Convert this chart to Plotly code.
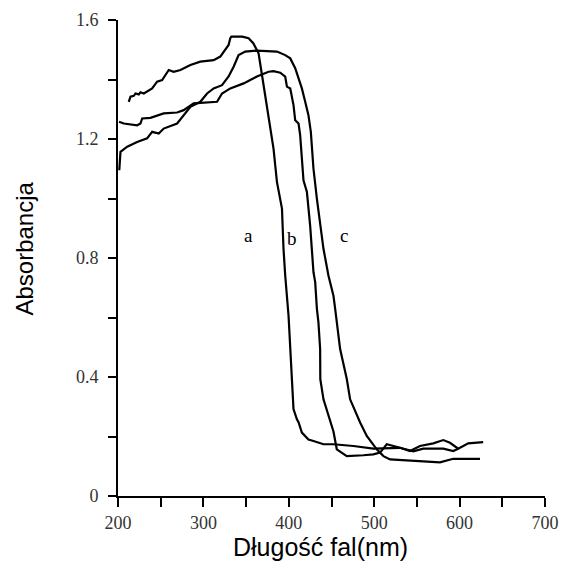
import plotly.graph_objects as go

# Curve a
a_x = [212.6, 214.6, 218.5, 220.5, 224.3, 226.3, 230.2, 234.1, 240.0, 245.8, 251.7, 259.4, 265.2,
       273.1, 284.8, 296.4, 312.0, 319.8, 323.7, 329.5, 331.5, 332.7, 345.5, 352.9, 358.4, 364.6,
       368.6, 372.4, 376.3, 378.3, 382.1, 386.1, 392.0, 393.8, 395.8, 399.7, 401.7, 403.6, 405.5,
       409.5, 411.4, 415.3, 423.0, 428.9, 440.6, 452.3, 475.7, 499.0, 530.2, 545.8, 557.5, 580.9,
       592.5, 598.4]
a_y = [1.325, 1.342, 1.345, 1.353, 1.350, 1.357, 1.353, 1.359, 1.370, 1.393, 1.398, 1.432, 1.426,
       1.432, 1.449, 1.460, 1.465, 1.477, 1.494, 1.516, 1.539, 1.544, 1.544, 1.539, 1.522, 1.488,
       1.415, 1.347, 1.269, 1.235, 1.168, 1.056, 0.966, 0.831, 0.741, 0.606, 0.494, 0.393, 0.292,
       0.258, 0.248, 0.213, 0.190, 0.185, 0.174, 0.174, 0.168, 0.159, 0.162, 0.150, 0.159, 0.159,
       0.151, 0.159]

# Curve b
b_x = [201.2, 206.8, 222.4, 226.3, 228.3, 238.0, 253.5, 269.2, 276.9, 288.6, 316.0, 321.8, 331.5,
       347.1, 362.7, 376.3, 382.1, 390.0, 395.8, 397.8, 401.7, 405.5, 407.5, 411.4, 413.3, 415.3,
       417.2, 421.2, 425.0, 428.9, 430.9, 432.9, 434.7, 436.7, 436.9, 440.6, 448.4, 452.3, 456.2,
       467.9, 487.3, 499.0, 506.9, 514.7, 530.2, 541.9, 553.6, 569.2, 580.9, 588.7, 598.4, 610.1,
       627.6]
b_y = [1.258, 1.252, 1.246, 1.252, 1.269, 1.271, 1.286, 1.289, 1.297, 1.320, 1.325, 1.353, 1.370,
       1.387, 1.410, 1.426, 1.428, 1.423, 1.410, 1.376, 1.370, 1.314, 1.263, 1.252, 1.213, 1.134,
       1.061, 1.022, 0.909, 0.752, 0.719, 0.629, 0.584, 0.494, 0.393, 0.325, 0.258, 0.217, 0.157,
       0.134, 0.137, 0.140, 0.146, 0.174, 0.162, 0.151, 0.168, 0.177, 0.188, 0.179, 0.159, 0.177,
       0.181]

# Curve c
c_x = [201.5, 202.1, 202.9, 210.8, 222.4, 234.1, 240.0, 247.7, 253.5, 269.2, 276.0, 284.8, 296.4,
       304.3, 312.0, 321.8, 329.5, 335.4, 341.2, 349.0, 362.7, 374.4, 386.1, 395.8, 401.7, 407.5,
       411.4, 415.3, 419.2, 423.0, 425.8, 427.0, 428.9, 432.9, 436.7, 440.6, 446.4, 452.3, 454.3,
       460.1, 467.9, 471.8, 483.5, 491.3, 503.0, 510.8, 518.6, 530.2, 541.9, 577.0, 592.5, 623.9]
c_y = [1.095, 1.145, 1.157, 1.174, 1.190, 1.202, 1.224, 1.218, 1.235, 1.252, 1.275, 1.308, 1.325,
       1.353, 1.370, 1.381, 1.410, 1.443, 1.482, 1.494, 1.497, 1.496, 1.494, 1.482, 1.471, 1.438,
       1.404, 1.370, 1.325, 1.280, 1.224, 1.168, 1.100, 0.999, 0.909, 0.831, 0.741, 0.673, 0.629,
       0.494, 0.393, 0.325, 0.247, 0.202, 0.157, 0.134, 0.123, 0.121, 0.117, 0.113, 0.125, 0.125]

curve_labels = ["a", "b", "c"]
label_x = [352.6, 404.0, 464.8]
label_y = [0.875, 0.864, 0.875]

x_ticks = [200, 300, 400, 500, 600, 700]
y_ticks = [0, 0.4, 0.8, 1.2, 1.6]
y_ticktext = ["0", "0.4", "0.8", "1.2", "1.6"]

x_title = "Długość fal(nm)"
y_title = "Absorbancja"

fig = go.Figure()
for xs, ys in [(a_x, a_y), (b_x, b_y), (c_x, c_y)]:
    fig.add_trace(go.Scatter(x=xs, y=ys, mode="lines",
                             line=dict(color="black", width=2.2), showlegend=False,
                             cliponaxis=False))

for t, lx, ly in zip(curve_labels, label_x, label_y):
    fig.add_annotation(x=lx, y=ly, text=t, showarrow=False,
                       font=dict(family="Liberation Serif", size=19, color="black"))

fig.add_annotation(xref="paper", yref="paper", x=0.474, y=-0.108, text=x_title,
                   showarrow=False, xanchor="center", yanchor="middle",
                   font=dict(family="Liberation Sans", size=25, color="black"))
fig.add_annotation(xref="paper", yref="paper", x=-0.22, y=0.52, text=y_title,
                   showarrow=False, xanchor="center", yanchor="middle", textangle=-90,
                   font=dict(family="Liberation Sans", size=24, color="black"))

fig.update_layout(
    width=561, height=564,
    margin=dict(l=118, r=16, t=20, b=68),
    paper_bgcolor="white", plot_bgcolor="white",
    xaxis=dict(range=[200, 700], tickvals=x_ticks, ticks="outside", ticklen=9, tickwidth=2,
               tickcolor="black", showline=True, linecolor="black", linewidth=2,
               showgrid=False, zeroline=False, automargin=False,
               minor=dict(dtick=50, tick0=200, ticks="outside", ticklen=9, tickwidth=2,
                          tickcolor="black", showgrid=False),
               tickfont=dict(family="Liberation Serif", size=18, color="#333333")),
    yaxis=dict(range=[0, 1.6], tickvals=y_ticks, ticktext=y_ticktext, ticks="outside",
               ticklen=8, tickwidth=2, tickcolor="black", showline=True, linecolor="black",
               linewidth=2, showgrid=False, zeroline=False, ticklabelstandoff=6, automargin=False,
               minor=dict(dtick=0.2, tick0=0, ticks="outside", ticklen=8, tickwidth=2,
                          tickcolor="black", showgrid=False),
               tickfont=dict(family="Liberation Serif", size=18, color="#333333")),
)

fig.write_html("out.html")
